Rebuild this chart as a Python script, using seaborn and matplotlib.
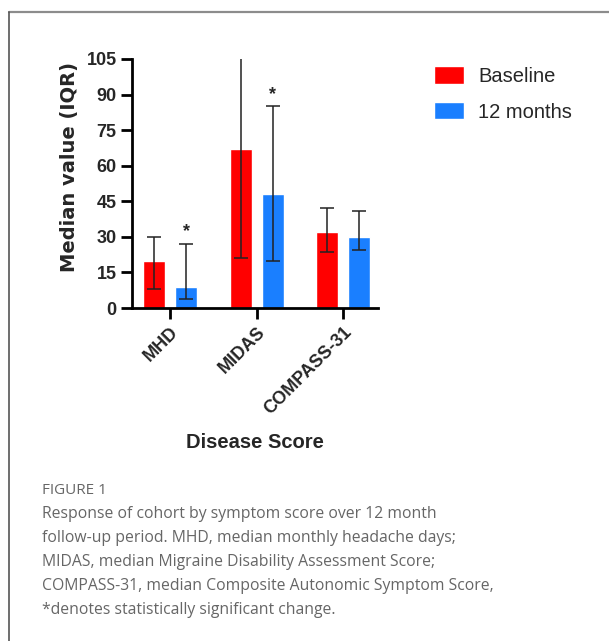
import matplotlib
matplotlib.use('Agg')
import matplotlib.pyplot as plt
import pandas as pd
import seaborn as sns
from matplotlib.container import BarContainer
from matplotlib.lines import Line2D

# Data
scores = ['MHD', 'MIDAS', 'COMPASS-31']
groups = ['Baseline', '12 months']
baseline_median = [20, 67, 32]
baseline_q1 = [8, 21, 23.5]
baseline_q3 = [30, 108, 42]   # MIDAS upper quartile runs off the top of the axis
month12_median = [9, 48, 30]
month12_q1 = [4, 20, 24.5]
month12_q3 = [27, 85, 41]
significant = [True, True, False]  # 12 months vs baseline
yticks = [0, 15, 30, 45, 60, 75, 90, 105]

caption_title = 'FIGURE 1'
caption_lines = [
    'Response of cohort by symptom score over 12 month',
    'follow-up period. MHD, median monthly headache days;',
    'MIDAS, median Migraine Disability Assessment Score;',
    'COMPASS-31, median Composite Autonomic Symptom Score,',
    '*denotes statistically significant change.',
]

df = pd.DataFrame({
    'Score': scores * 2,
    'Group': [groups[0]] * 3 + [groups[1]] * 3,
    'Median': baseline_median + month12_median,
})

sns.set_style('white')
plt.rcParams['font.family'] = ['Liberation Sans', 'DejaVu Sans']

fig = plt.figure(figsize=(6.09, 6.41), dpi=100)
ax = fig.add_axes([0.2167, 0.5195, 0.4040, 0.3885])

palette = {'Baseline': '#ff0000', '12 months': '#1a7fff'}
sns.barplot(data=df, x='Score', y='Median', hue='Group', order=scores,
            hue_order=groups, palette=palette, width=0.74, gap=0.31,
            saturation=1, errorbar=None, ax=ax, legend=True)

# IQR error bars from the bar positions
lows = [baseline_q1, month12_q1]
highs = [baseline_q3, month12_q3]
meds = [baseline_median, month12_median]
bar_sets = [c for c in ax.containers if isinstance(c, BarContainer)]
for i, cont in enumerate(bar_sets):
    for j, bar in enumerate(cont.patches):
        xc = bar.get_x() + bar.get_width() / 2
        m = meds[i][j]
        ax.errorbar(xc, m, yerr=[[m - lows[i][j]], [highs[i][j] - m]],
                    fmt='none', ecolor='#222222', elinewidth=1.1,
                    capsize=4.8, capthick=1.1, zorder=3)
        if i == 1 and significant[j]:
            ax.text(xc, highs[i][j] + 1.5, '*', ha='center', va='bottom',
                    fontsize=13, fontweight='bold')

ax.set_ylim(0, 105)
ax.set_xlim(-0.44, 2.40)
ax.set_yticks(yticks)
ax.set_yticklabels([str(t) for t in yticks], fontsize=13, fontweight='bold')
ax.set_xticks(range(len(scores)))
ax.set_xticklabels(scores, rotation=45, ha='right', rotation_mode='anchor',
                   fontsize=13, fontweight='bold')
ax.set_ylabel('Median value (IQR)', fontsize=14, fontweight='bold',
              family=['DejaVu Sans'])
ax.yaxis.set_label_coords(-0.215, 0.565)
ax.set_xlabel('Disease Score', fontsize=14.5, fontweight='bold', labelpad=11)

sns.despine(ax=ax)
for side in ['left', 'bottom']:
    ax.spines[side].set_linewidth(2)
    ax.spines[side].set_color('black')
ax.tick_params(axis='both', which='major', direction='out', length=8,
               width=2, color='black', pad=3, bottom=True, left=True)

handles, labels = ax.get_legend_handles_labels()
ax.legend(handles, labels, loc='upper left', bbox_to_anchor=(0.683, 0.925),
          bbox_transform=fig.transFigure, frameon=False, fontsize=14.5,
          handlelength=1.5, handleheight=0.95, handletextpad=0.7,
          labelspacing=0.8)

# Page frame
fig.add_artist(Line2D([0.0148, 1.0], [0.981, 0.981], transform=fig.transFigure,
                      color='#8c8c8c', linewidth=1.6))
fig.add_artist(Line2D([0.0148, 0.0148], [0.0, 0.981], transform=fig.transFigure,
                      color='#555555', linewidth=1.2))

# Caption
fig.text(0.069, 1 - 490 / 641, caption_title, fontsize=11, color='#666666',
         family=['Open Sans', 'DejaVu Sans'], va='center')
for k, line in enumerate(caption_lines):
    fig.text(0.069, 1 - (514 + 24 * k) / 641, line, fontsize=11.35,
             color='#666666', family=['Open Sans', 'DejaVu Sans'], va='center')

fig.savefig('out.png', dpi=100)
